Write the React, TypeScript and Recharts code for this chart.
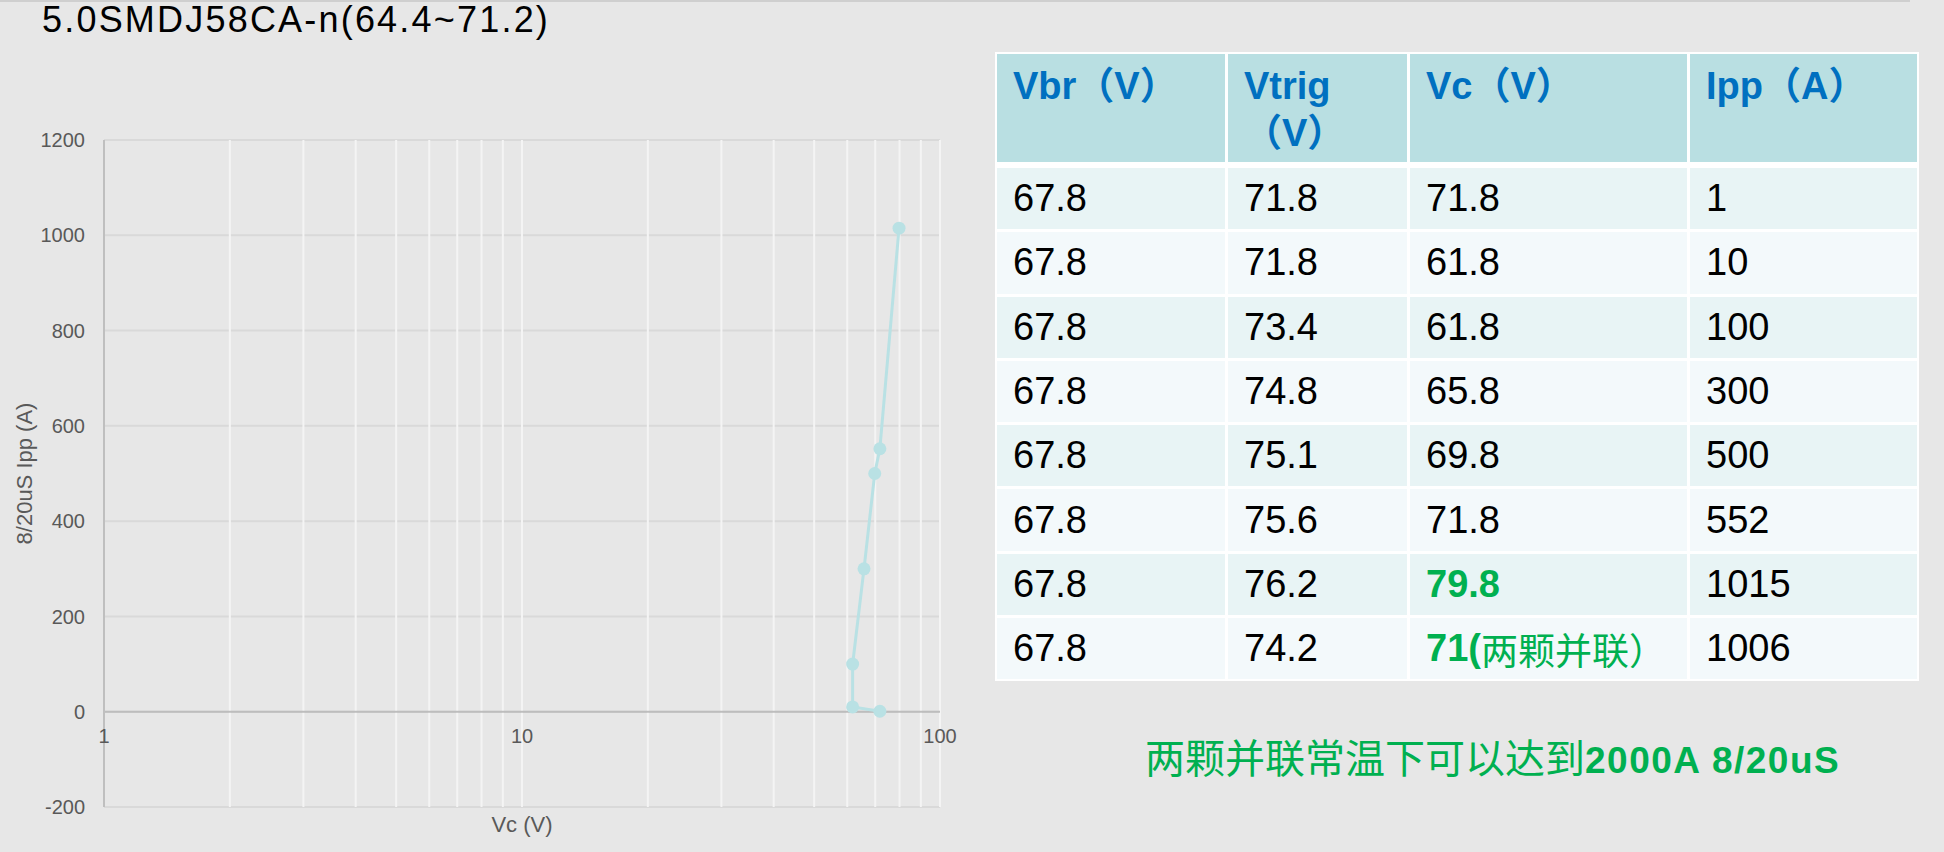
import React from "react";
import {
  ScatterChart,
  Scatter,
  XAxis,
  YAxis,
  CartesianGrid,
  ReferenceLine,
} from "recharts";

// table columns
const headers = ["Vbr（V）", "Vtrig\n（V）", "Vc（V）", "Ipp（A）"];
const vbr = ["67.8", "67.8", "67.8", "67.8", "67.8", "67.8", "67.8", "67.8"];
const vtrig = ["71.8", "71.8", "73.4", "74.8", "75.1", "75.6", "76.2", "74.2"];
const vcText = ["71.8", "61.8", "61.8", "65.8", "69.8", "71.8", "79.8", "71("];
const vcNote = ["", "", "", "", "", "", "", "两颗并联）"];
const ippText = ["1", "10", "100", "300", "500", "552", "1015", "1006"];
const greenRows = [6, 7];

// plotted points (single-device rows)
const vcValues = [71.8, 61.8, 61.8, 65.8, 69.8, 71.8, 79.8];
const ippValues = [1, 10, 100, 300, 500, 552, 1015];

const xTicks = [1, 10, 100];
const xMinor = [2, 3, 4, 5, 6, 7, 8, 9, 10, 20, 30, 40, 50, 60, 70, 80, 90, 100];
const yTicks = [-200, 0, 200, 400, 600, 800, 1000, 1200];
const yDomain: [number, number] = [-200, 1200];

const chartData = vcValues.map((v, i) => ({ vc: v, ipp: ippValues[i] }));

const BG = "#e7e7e7";
const TEXT = "#595959";
const SERIES = "#b9e1e4";
const GREEN = "#00b050";
const FONT = '"Liberation Sans", Arial, "Noto Sans CJK SC", sans-serif';

const PLOT_TOP = 140;
const X_AXIS_H = 45;
const CHART_H = 852;
const plotH = CHART_H - X_AXIS_H - PLOT_TOP;
// distance from bottom of plot up to the 0 line, where Excel puts the x labels
const zeroOffset = (plotH * (0 - yDomain[0])) / (yDomain[1] - yDomain[0]);

function XTick(props: any) {
  const { x, y, payload } = props;
  return (
    <text x={x} y={y - zeroOffset + 31} textAnchor="middle" fill={TEXT} fontSize={20} fontFamily={FONT}>
      {payload.value}
    </text>
  );
}

function Dot(props: any) {
  return <circle cx={props.cx} cy={props.cy} r={6.5} fill={SERIES} />;
}

function IvChart() {
  return (
    <ScatterChart
      width={960}
      height={CHART_H}
      margin={{ top: PLOT_TOP, right: 20, bottom: 0, left: 0 }}
      style={{ fontFamily: FONT }}
    >
      <CartesianGrid vertical={false} stroke="#d9d9d9" strokeWidth={2} />
      {xMinor.map((v) => (
        <ReferenceLine key={v} x={v} stroke="#f4f4f4" strokeWidth={2} />
      ))}
      <ReferenceLine y={0} stroke="#bdbdbd" strokeWidth={2} />
      <XAxis
        type="number"
        dataKey="vc"
        scale="log"
        domain={[1, 100]}
        ticks={xTicks}
        allowDataOverflow
        height={X_AXIS_H}
        axisLine={false}
        tickLine={false}
        tickSize={0}
        tickMargin={0}
        tick={<XTick />}
        label={{ value: "Vc (V)", position: "insideBottom", offset: 20, fill: TEXT, fontSize: 22 }}
      />
      <YAxis
        type="number"
        dataKey="ipp"
        domain={yDomain}
        ticks={yTicks}
        width={104}
        axisLine={{ stroke: "#bfbfbf", strokeWidth: 2 }}
        tickLine={false}
        tickSize={0}
        tickMargin={19}
        tick={{ fill: TEXT, fontSize: 20 }}
        label={{
          value: "8/20uS Ipp (A)",
          angle: -90,
          position: "insideLeft",
          offset: 24,
          style: { textAnchor: "middle", fill: TEXT, fontSize: 22 },
        }}
      />
      <Scatter
        data={chartData}
        fill={SERIES}
        line={{ stroke: SERIES, strokeWidth: 3 }}
        lineType="joint"
        shape={<Dot />}
        isAnimationActive={false}
      />
    </ScatterChart>
  );
}

const colWidths = [228, 179, 277, 227];

function DataTable() {
  const rowBg = (i: number) => (i % 2 === 0 ? "#e8f4f5" : "#f3f9fb");
  return (
    <div
      style={{
        position: "absolute",
        left: 995,
        top: 52,
        background: "#ffffff",
        padding: 2,
        display: "grid",
        gridTemplateColumns: colWidths.map((w) => `${w}px`).join(" "),
        gridTemplateRows: `111px repeat(${vbr.length}, 61.3px)`,
        columnGap: 3,
        rowGap: 3,
        fontFamily: FONT,
      }}
    >
      {headers.map((h) => (
        <div
          key={h}
          style={{
            background: "#b9dfe2",
            color: "#0070c0",
            fontWeight: "bold",
            fontSize: 38,
            lineHeight: "47px",
            padding: "9px 16px 0",
            whiteSpace: "pre",
            marginBottom: 3,
          }}
        >
          {h}
        </div>
      ))}
      {vbr.map((_, i) => {
        const cells = [vbr[i], vtrig[i], vcText[i], ippText[i]];
        return cells.map((c, j) => {
          const green = j === 2 && greenRows.includes(i);
          return (
            <div
              key={`${i}-${j}`}
              style={{
                background: rowBg(i),
                display: "flex",
                alignItems: "center",
                paddingLeft: 16,
                fontSize: 38,
                color: green ? GREEN : "#000",
                fontWeight: green ? "bold" : "normal",
                whiteSpace: "nowrap",
              }}
            >
              {c}
              {j === 2 && vcNote[i] ? (
                <span style={{ fontWeight: "normal", fontSize: 37 }}>{vcNote[i]}</span>
              ) : null}
            </div>
          );
        });
      })}
    </div>
  );
}

export default function App() {
  return (
    <div
      style={{
        position: "absolute",
        left: 0,
        top: 0,
        width: 1944,
        height: 852,
        background: BG,
        overflow: "hidden",
        fontFamily: FONT,
      }}
    >
      <div style={{ position: "absolute", left: 0, top: 0, width: 1910, height: 2, background: "#cfcfcf" }} />
      <div
        style={{
          position: "absolute",
          left: 42,
          top: 0,
          fontSize: 36,
          lineHeight: "40px",
          letterSpacing: 2.2,
          color: "#000",
          whiteSpace: "nowrap",
        }}
      >
        5.0SMDJ58CA-n(64.4~71.2)
      </div>
      <div style={{ position: "absolute", left: 0, top: 0 }}>
        <IvChart />
      </div>
      <DataTable />
      <div
        style={{
          position: "absolute",
          left: 1145,
          top: 734,
          color: GREEN,
          whiteSpace: "nowrap",
          lineHeight: "44px",
        }}
      >
        <span style={{ fontSize: 40, fontFamily: '"Noto Sans CJK SC", sans-serif' }}>两颗并联常温下可以达到</span>
        <span style={{ fontSize: 37, fontWeight: "bold", letterSpacing: 1.5 }}>2000A 8/20uS</span>
      </div>
    </div>
  );
}
